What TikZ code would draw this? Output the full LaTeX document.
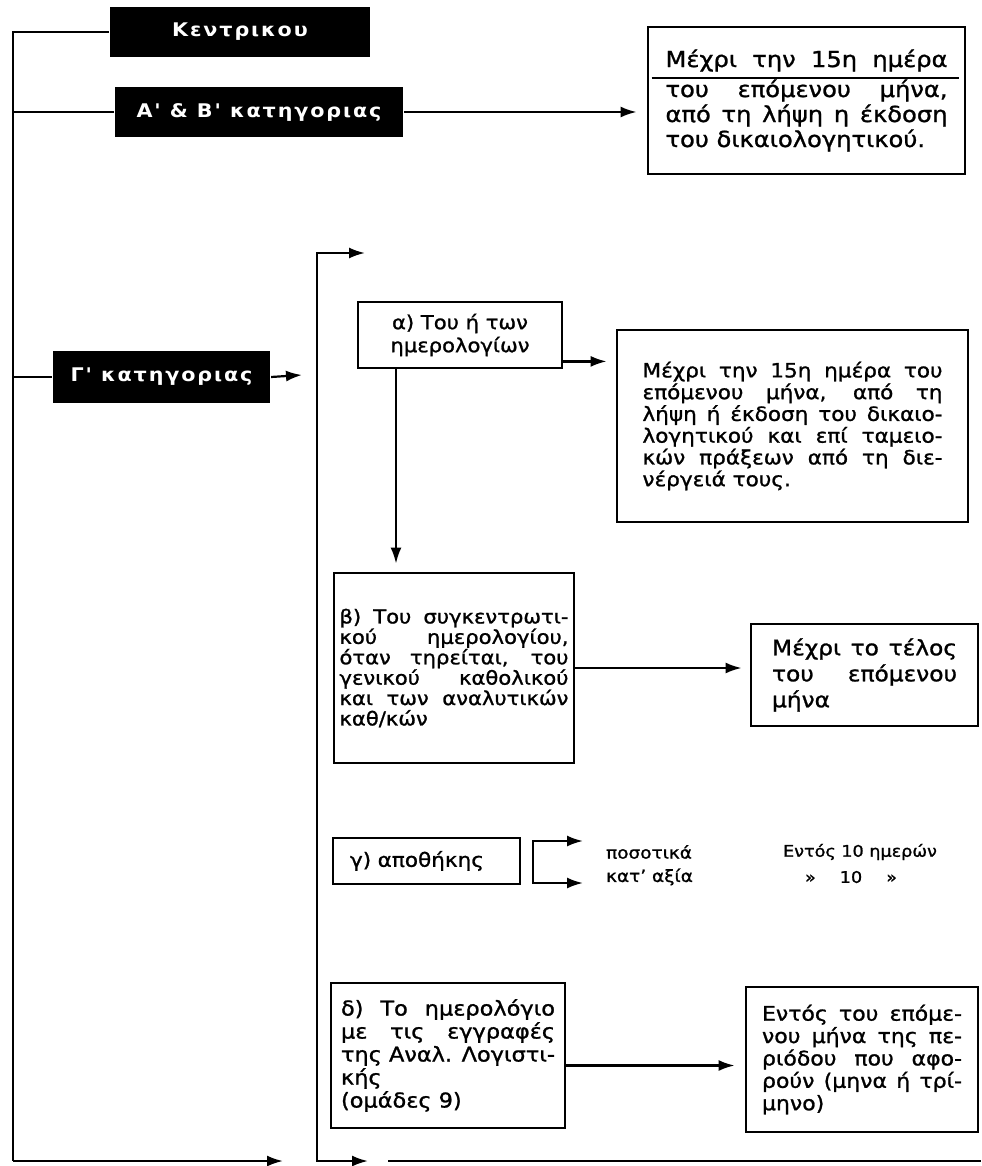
\documentclass[tikz,border=0pt]{standalone}
\usepackage{fontspec}
\setmainfont{DejaVu Sans}[FakeStretch=1.1,FakeBold=1.2]
\newfontfamily\catfont{DejaVu Sans}[FakeStretch=1.1,LetterSpace=10]
\usepackage{tikz}
\usetikzlibrary{arrows.meta, positioning}
\setlength{\lineskiplimit}{-20pt}
\hyphenpenalty=10000

\begin{document}
\begin{tikzpicture}[x=0.5pt, y=-0.5pt, line width=1.1pt,
    >={Latex[length=8pt,width=5.5pt]},
    catbox/.style={fill=black, text=white, inner sep=0pt,
        font=\catfont\bfseries\fontsize{9.4}{10}\selectfont},
    tbox/.style={draw, line width=1.4pt, inner sep=0pt, align=justify}]
\useasboundingbox (0,0) rectangle (981,1166);

% Category boxes (black)
\node[catbox, minimum width=130pt, minimum height=25pt] (kentr) at (240,32) {Κεντρικου};
\node[catbox, minimum width=144pt, minimum height=25pt] (abcat) at (259,112) {Α' \& Β' κατηγοριας};
\node[catbox, minimum width=108.5pt, minimum height=26pt] (gcat) at (161.5,377) {Γ' κατηγοριας};

% Deadline for A' & B'
\node[tbox, minimum width=158.5pt, minimum height=73.5pt, text width=141pt,
    font=\fontsize{11}{12.5}\selectfont] (abtime) at (806.5,100.5)
    {Μέχρι\hfill την\hfill 15η\hfill ημέρα\\[2.5pt] του επόμενου μήνα,\linebreak από τη λήψη η έκδοση\linebreak του δικαιολογητικού.};
\coordinate (ulev) at (0,78);
\draw ([xshift=2.5pt]abtime.west |- ulev) -- ([xshift=-3.5pt]abtime.east |- ulev);

% Books of category C
\node[tbox, align=center, minimum width=102pt, minimum height=33pt,
    font=\fontsize{9.6}{11.5}\selectfont] (alpha) at (460,335)
    {α) Του ή των\\ ημερολογίων};
\node[tbox, minimum width=175.5pt, minimum height=96pt, text width=150pt,
    font=\fontsize{9.8}{9.7}\selectfont] (alphatime) at (792.5,426)
    {Μέχρι την 15η ημέρα του\linebreak επόμενου μήνα, από τη\linebreak λήψη ή έκδοση του δικαιο-\linebreak
     λογητικού και επί ταμειο-\linebreak κών πράξεων από τη διε-\linebreak νέργειά τους.};

\node[tbox, minimum width=120pt, minimum height=95pt, text width=114.5pt,
    font=\fontsize{9.6}{10.2}\selectfont] (beta) at (454,668)
    {β) Του συγκεντρωτι-\linebreak κού ημερολογίου,\linebreak όταν τηρείται, του\linebreak
     γενικού καθολικού\linebreak και των αναλυτικών\linebreak καθ/κών};
\node[tbox, minimum width=113.5pt, minimum height=51pt, text width=92.5pt,
    font=\fontsize{10.6}{13}\selectfont] (betatime) at (864.5,675)
    {Μέχρι το τέλος\linebreak του επόμενου\linebreak μήνα};

\node[tbox, align=left, minimum width=93.5pt, minimum height=23pt, text width=76.5pt,
    font=\fontsize{9.8}{11}\selectfont] (gammab) at (426.5,861) {γ) αποθήκης};
\node[anchor=west, inner sep=0pt, font=\fontsize{8.4}{10}\selectfont] (qty) at (605,852) {ποσοτικά};
\node[anchor=west, inner sep=0pt, font=\fontsize{8.4}{10}\selectfont] (val) at (605,877) {κατ' αξία};
\node[inner sep=0pt, font=\fontsize{8}{10}\selectfont] (days) at (860,852) {Εντός 10 ημερών};
\node[inner sep=0pt, font=\fontsize{8}{10}\selectfont] (daysb) at (851,877) {»\hspace{12pt}10\hspace{12pt}»};

\node[tbox, minimum width=117pt, minimum height=72.5pt, text width=107pt,
    font=\fontsize{10.2}{11.5}\selectfont] (delta) at (448,1055.5)
    {δ) Το ημερολόγιο\linebreak με τις εγγραφές\linebreak της Αναλ. Λογιστι-\linebreak κής\\ (ομάδες 9)};
\node[tbox, minimum width=116pt, minimum height=72.5pt, text width=100pt,
    font=\fontsize{10}{11.2}\selectfont] (deltatime) at (862,1059.5)
    {Εντός του επόμε-\linebreak νου μήνα της πε-\linebreak ριόδου που αφο-\linebreak ρούν (μηνα ή τρί-\linebreak μηνο)};

% Outer spine
\coordinate (ltop) at (13,32);
\coordinate (lbot) at (13,1161);
\coordinate (lend) at (283,1161);
\draw (kentr.west) -- (ltop) -- (lbot);
\draw[->] (lbot) -- (lend);
\draw (ltop |- abcat.west) -- (abcat.west);
\draw (ltop |- gcat.west) -- (gcat.west);
\draw[->, shorten >=5pt] (abcat.east) -- (abcat.east -| abtime.west);
\coordinate (gend) at (302,375);
\draw[->] (gcat.east) -- (gend);

% Inner spine
\coordinate (itop) at (317,253);
\coordinate (itopend) at (365,253);
\coordinate (ibot) at (317,1161);
\coordinate (ibotend) at (368,1161);
\draw[<->] (itopend) -- (itop) -- (ibot) -- (ibotend);
\coordinate (tailstart) at (388,1161);
\coordinate (tailend) at (981,1161);
\draw (tailstart) -- (tailend);

% Book connectors
\draw[->, shorten >=4.5pt] ([yshift=4pt]alpha.south east) coordinate (aout) -- (aout -| alphatime.west);
\draw[->, shorten >=4pt] ([xshift=-32pt]alpha.south) coordinate (adown) -- (adown |- beta.north);
\draw[->, shorten >=4pt] (beta.east) -- (beta.east -| betatime.west);
\draw[->, shorten >=5pt] ([yshift=-5pt]delta.east) coordinate (dout) -- (dout -| deltatime.west);
\coordinate (qarr) at (583,841);
\coordinate (varr) at (583,883);
\draw[<->] (qarr) -- ++(-50,0) |- (varr);

\end{tikzpicture}
\end{document}
